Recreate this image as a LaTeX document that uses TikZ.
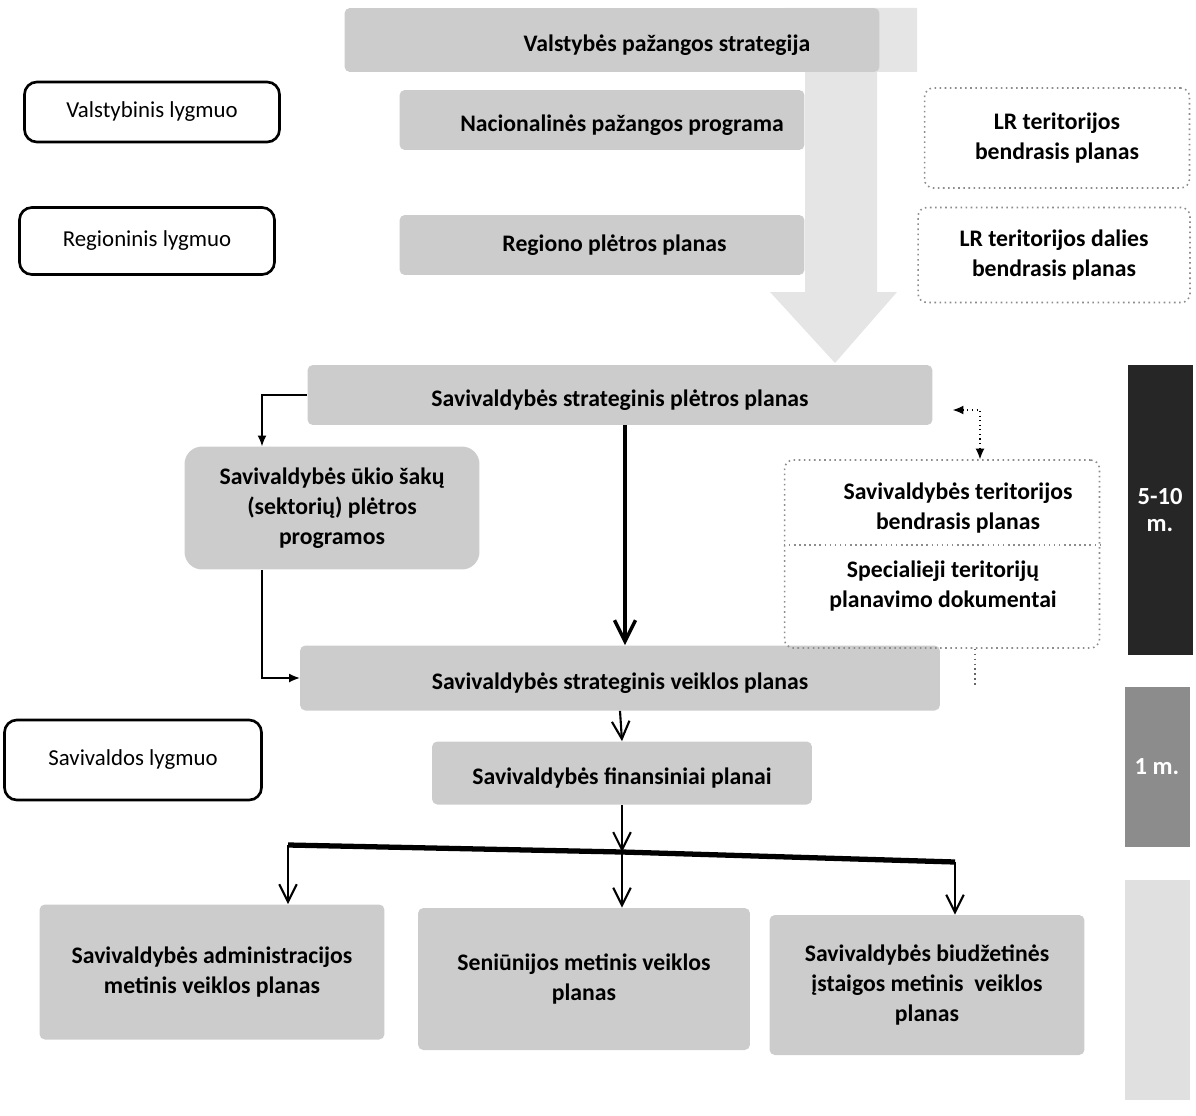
\documentclass[tikz,border=0pt]{standalone}
\usepackage{fontspec}
\setmainfont{Carlito}
\usetikzlibrary{arrows.meta}
\begin{document}
\begin{tikzpicture}[x=0.02cm,y=-0.02cm,
  plan/.style={fill=black!20,rounded corners=3pt,align=center,inner sep=2pt,
    font=\fontsize{13.5}{17}\selectfont\bfseries},
  zemyn/.style={text height=16pt,text depth=3pt},
  lygis/.style={draw,line width=1.5pt,rounded corners=7pt,minimum width=5.1cm,
    font=\fontsize{13}{15}\selectfont},
  terpl/.style={draw=black!45,dotted,line width=.9pt,rounded corners=5pt,align=center,
    font=\fontsize{13.5}{17}\selectfont\bfseries},
  juosta/.style={text=white,align=center,minimum width=1.3cm,
    font=\fontsize{14}{15}\selectfont\bfseries},
  vrod/.style={-{Straight Barb[length=10pt,width=10pt,line width=1.2pt]},line width=1.2pt},
  plon/.style={-{Latex[length=6pt,width=5pt]},line width=.6pt}]
\useasboundingbox (0,0) rectangle (1196,1115);
% didele pilka rodykle
\fill[black!10] (785,8) -- (917,8) -- (917,72) -- (877,72) -- (877,292) -- (897,292)
  -- (835,363) -- (770,292) -- (805,292) -- (805,72) -- (785,72) -- cycle;
% valstybinis ir regioninis lygmuo
\node[plan,zemyn,minimum width=10.7cm,minimum height=1.28cm](strat) at (612,40)
  {\hspace*{2.2cm}Valstybės pažangos strategija};
\node[plan,zemyn,minimum width=8.1cm,minimum height=1.2cm](nac) at (602,120)
  {\hspace*{0.8cm}Nacionalinės pažangos programa};
\node[plan,minimum width=8.1cm,minimum height=1.2cm](reg) at (602,245)
  {\hspace*{0.5cm}Regiono plėtros planas};
\node[terpl,minimum width=5.3cm,minimum height=2cm](lrt) at (1057,138)
  {LR teritorijos\\bendrasis planas};
\node[terpl,minimum width=5.44cm,minimum height=1.9cm](lrd) at (1054,255)
  {LR teritorijos dalies\\bendrasis planas};
\node[lygis,minimum height=1.2cm](valst) at (152,112){Valstybinis lygmuo};
\node[lygis,minimum height=1.34cm](regl) at (147,241){Regioninis lygmuo};
\node[lygis,minimum width=5.14cm,minimum height=1.6cm](savl) at (133,760){Savivaldos lygmuo};
% savivaldos lygmuo
\node[plan,zemyn,minimum width=12.5cm,minimum height=1.2cm](pletr) at (620,395)
  {Savivaldybės strateginis plėtros planas};
\node[plan,rounded corners=10pt,minimum width=5.9cm,minimum height=2.46cm](sekt) at (332,508)
  {Savivaldybės ūkio šakų\\(sektorių) plėtros\\programos};
\node[plan,zemyn,minimum width=12.8cm,minimum height=1.3cm](veik) at (620,678)
  {Savivaldybės strateginis veiklos planas};
\node[terpl,minimum width=6.3cm,minimum height=3.76cm](terit) at (942,554){};
\node[font=\fontsize{13.5}{17}\selectfont\bfseries,align=center](terbp) at (958,508)
  {Savivaldybės teritorijos\\bendrasis planas};
\node[font=\fontsize{13.5}{17}\selectfont\bfseries,align=center](spec) at (943,586)
  {Specialieji teritorijų\\planavimo dokumentai};
\draw[black!45,dotted,line width=.9pt] (terit.west |- 0,545) -- (terit.east |- 0,545);
\node[plan,zemyn,minimum width=7.6cm,minimum height=1.26cm](fin) at (622,773)
  {Savivaldybės finansiniai planai};
\node[plan,minimum width=6.9cm,minimum height=2.7cm](adm) at (212,972)
  {Savivaldybės administracijos\\metinis veiklos planas};
\node[plan,minimum width=6.64cm,minimum height=2.84cm](sen) at (584,979)
  {Seniūnijos metinis veiklos\\planas};
\node[plan,minimum width=6.3cm,minimum height=2.8cm](biu) at (927,985)
  {Savivaldybės biudžetinės\\įstaigos metinis\ \ veiklos\\planas};
% laikotarpiai
\node[juosta,fill=black!85,minimum height=5.8cm](j1) at (1160,510){5-10\\m.};
\node[juosta,fill=black!45,minimum height=3.2cm](j2) at (1157,767){1 m.};
\node[juosta,fill=black!12,minimum height=4.4cm](j3) at (1157,990){};
% rodykles
\draw[plon] (pletr.west) -| ([xshift=-1.4cm]sekt.north);
\draw[plon] ([xshift=-1.4cm]sekt.south) |- (veik.west);
\draw[-{Straight Barb[length=12pt,width=12pt,line width=2pt]},line width=2.5pt]
  ([xshift=0.1cm]pletr.south) -- ([xshift=0.1cm]veik.north);
\draw[{Latex[length=6pt,width=5pt]}-{Latex[length=6pt,width=5pt]},line width=.6pt,dotted]
  ([shift={(0.4cm,-0.3cm)}]pletr.east) -| ([xshift=0.76cm]terit.north);
\draw[black!60,dotted,line width=.8pt] ([xshift=0.66cm]terit.south) -- ++(0,37);
\draw[vrod] (veik.south) -- (fin.north);
\coordinate (fork) at (622,852);
\coordinate (forkL) at (288,845);
\coordinate (forkR) at (955,862);
\draw[vrod] (fin.south) -- (fork);
\draw[line width=3pt] (forkL) -- (fork) -- (forkR);
\draw[vrod] (forkL) -- (forkL |- adm.north);
\draw[vrod] (fork) -- (fork |- sen.north);
\draw[vrod] (forkR) -- (forkR |- biu.north);
\end{tikzpicture}
\end{document}
